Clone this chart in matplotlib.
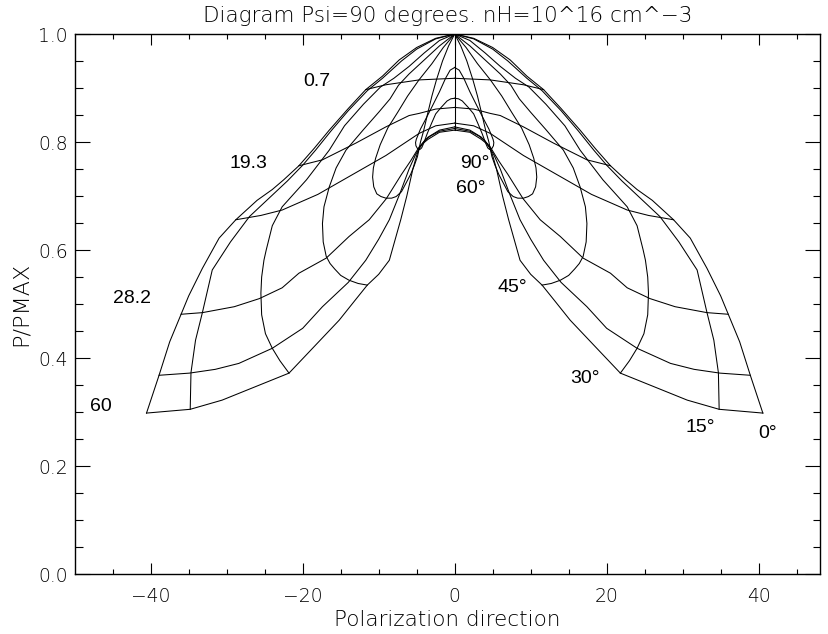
import matplotlib
matplotlib.use("Agg")
import matplotlib.pyplot as plt
import numpy as np

# ---------------- data (right half; left half is the mirror image) ----------
# curves of constant inclination: (polarization direction, P/PMAX)
incl_0_x  = [0, 2.5, 5.0, 7.3, 9.5, 11.7, 14.0, 16.5, 18.5, 20.5, 22.5, 24.0, 26.0, 28.8, 31.0, 33.2, 35.0, 36.0, 37.5, 38.9, 40.55]
incl_0_y  = [1, 0.992, 0.975, 0.952, 0.922, 0.897, 0.862, 0.822, 0.788, 0.756, 0.730, 0.712, 0.692, 0.656, 0.622, 0.566, 0.515, 0.481, 0.430, 0.368, 0.298]
incl_15_x = [0, 2.5, 5.0, 7.0, 9.5, 11.5, 14.0, 16.3, 18.3, 20.0, 22.0, 24.5, 27.0, 29.5, 31.9, 33.2, 34.1, 34.7, 34.8]
incl_15_y = [1, 0.991, 0.972, 0.950, 0.918, 0.895, 0.858, 0.820, 0.785, 0.757, 0.728, 0.695, 0.662, 0.615, 0.563, 0.484, 0.433, 0.373, 0.305]
incl_30_x = [0, 2.0, 4.0, 6.0, 8.0, 9.75, 12.0, 14.5, 16.5, 19.5, 22.7, 24.0, 24.8, 25.1, 25.4, 25.5, 25.4, 24.9, 24.0, 23.0, 21.8]
incl_30_y = [1, 0.988, 0.965, 0.940, 0.918, 0.902, 0.870, 0.830, 0.785, 0.730, 0.680, 0.645, 0.600, 0.581, 0.550, 0.520, 0.480, 0.445, 0.418, 0.395, 0.372]
incl_45_x = [0, 2.0, 4.0, 6.0, 7.4, 8.5, 10.0, 12.0, 14.3, 15.6, 16.5, 17.2, 17.4, 17.3, 16.9, 16.4, 15.8, 15.0, 13.9, 12.7, 11.5]
incl_45_y = [1, 0.978, 0.952, 0.926, 0.905, 0.880, 0.855, 0.823, 0.785, 0.752, 0.717, 0.680, 0.649, 0.615, 0.588, 0.575, 0.565, 0.553, 0.544, 0.538, 0.535]
incl_60_x = [0, 1.5, 3.0, 4.7, 6.2, 7.5, 8.8, 9.8, 10.4, 10.7, 10.8, 10.65, 10.25, 9.7, 9.05, 8.3, 7.7, 7.0, 6.4, 5.8, 5.3, 4.9, 4.67]
incl_60_y = [1, 0.975, 0.945, 0.915, 0.885, 0.855, 0.826, 0.795, 0.770, 0.752, 0.735, 0.717, 0.704, 0.699, 0.696, 0.696, 0.699, 0.708, 0.724, 0.740, 0.757, 0.773, 0.788]
incl_75_x = [0, 0.8, 1.6, 2.4, 3.0, 3.6, 4.1, 4.5, 4.67]
incl_75_y = [1, 0.978, 0.950, 0.915, 0.885, 0.850, 0.820, 0.800, 0.788]
incl_90_x = [0, 0]
incl_90_y = [1, 0.822]
# small central loop (two nested arches joined by a narrow loop)
loop_x = [0, 0.6, 1.2, 2.0, 2.96, 3.9, 4.5, 4.85, 5.05, 5.15, 5.1, 4.9, 4.6, 4.35, 4.1, 3.6, 3.0, 2.5, 1.85, 1.0, 0.5, 0]
loop_y = [0.938, 0.933, 0.918, 0.893, 0.866, 0.840, 0.824, 0.812, 0.805, 0.799, 0.793, 0.788, 0.786, 0.789, 0.797, 0.816, 0.836, 0.852, 0.863, 0.876, 0.880, 0.881]

# curves of constant field strength
fA_x = [0, 4.67, 9.05, 11.7]
fA_y = [0.918, 0.915, 0.906, 0.897]
fB_x = [0, 2.5, 4.67, 6.0, 9.05, 13.0, 17.4, 20.5]
fB_y = [0.864, 0.861, 0.853, 0.849, 0.828, 0.798, 0.767, 0.756]
fC_x = [0, 2.5, 4.67, 9.05, 13.9, 18.0, 22.7, 25.5, 28.8]
fC_y = [0.835, 0.830, 0.816, 0.775, 0.736, 0.703, 0.674, 0.664, 0.656]
fD_x = [0, 2.0, 3.5, 4.67, 5.8, 7.0, 9.0, 11.25, 13.9, 16.9, 20.5, 22.7, 25.7, 29.0, 33.2, 36.0]
fD_y = [0.828, 0.822, 0.809, 0.791, 0.765, 0.740, 0.695, 0.656, 0.625, 0.585, 0.557, 0.530, 0.510, 0.495, 0.484, 0.481]
fE_x = [0, 2.0, 3.2, 4.0, 4.6, 5.2, 6.0, 7.2, 8.6, 10.0, 11.7, 14.0, 17.4, 20.0, 24.0, 28.4, 31.5, 34.9, 38.9]
fE_y = [0.825, 0.820, 0.811, 0.802, 0.790, 0.775, 0.750, 0.705, 0.656, 0.620, 0.581, 0.540, 0.495, 0.455, 0.418, 0.390, 0.379, 0.372, 0.368]
fF_x = [0, 2.0, 3.5, 4.2, 4.67, 5.0, 5.5, 6.3, 7.1, 8.6, 10.0, 11.5, 13.1, 15.2, 18.7, 21.8, 26.2, 30.6, 34.8, 40.55]
fF_y = [0.822, 0.818, 0.805, 0.797, 0.788, 0.775, 0.750, 0.700, 0.656, 0.581, 0.555, 0.535, 0.507, 0.470, 0.418, 0.372, 0.347, 0.322, 0.305, 0.298]

field_labels = ["0.7", "19.3", "28.2", "60"]
field_label_x = [-18.1, -27.2, -42.4, -46.5]
field_label_y = [0.912, 0.760, 0.511, 0.310]
incl_labels = ["90°", "60°", "45°", "30°", "15°", "0°"]
incl_label_x = [2.6, 2.1, 7.6, 17.1, 32.3, 41.2]
incl_label_y = [0.761, 0.713, 0.530, 0.362, 0.271, 0.261]

title = "Diagram Psi=90 degrees. nH=10^16 cm^\u22123"
xlabel = "Polarization direction"
ylabel = "P/PMAX"
xticks = [-40, -20, 0, 20, 40]
xticklabels = ["\u221240", "\u221220", "0", "20", "40"]
yticks = [0.0, 0.2, 0.4, 0.6, 0.8, 1.0]
yticklabels = ["0.0", "0.2", "0.4", "0.6", "0.8", "1.0"]

# ---------------- plot ----------------
plt.rcParams["font.family"] = ["DejaVu Sans"]
plt.rcParams["font.weight"] = 200

fig = plt.figure(figsize=(8.29, 6.34), dpi=100)
ax = fig.add_axes([74.7 / 829, 60 / 634, (820 - 74.7) / 829, 540 / 634])

curves = [(incl_0_x, incl_0_y), (incl_15_x, incl_15_y), (incl_30_x, incl_30_y),
          (incl_45_x, incl_45_y), (incl_60_x, incl_60_y), (incl_75_x, incl_75_y),
          (incl_90_x, incl_90_y), (loop_x, loop_y),
          (fA_x, fA_y), (fB_x, fB_y), (fC_x, fC_y), (fD_x, fD_y), (fE_x, fE_y), (fF_x, fF_y)]
for cx, cy in curves:
    cx = np.asarray(cx, float)
    ax.plot(cx, cy, color="black", lw=0.75, solid_joinstyle="round")
    ax.plot(-cx, cy, color="black", lw=0.75, solid_joinstyle="round")

lab_font = dict(family="Liberation Sans", fontsize=14, color="black", fontweight="normal")
for t, x, y in zip(field_labels, field_label_x, field_label_y):
    ax.text(x, y, t, ha="center", va="center", **lab_font)
for t, x, y in zip(incl_labels, incl_label_x, incl_label_y):
    ax.text(x, y, t, ha="center", va="center", **lab_font)

ax.set_xlim(-50, 48.07)
ax.set_ylim(0, 1)
ax.set_xticks(xticks)
ax.set_xticklabels(xticklabels)
ax.set_yticks(yticks)
ax.set_yticklabels(yticklabels)
ax.set_xticks(np.arange(-45, 48, 5), minor=True)
ax.set_yticks(np.arange(0, 1.001, 0.05), minor=True)
ax.tick_params(which="both", direction="in", top=True, right=True, color="black", width=0.8)
ax.tick_params(axis="x", which="major", length=7.8, labelsize=13.5, pad=9)
ax.tick_params(axis="x", which="minor", length=3.9)
ax.tick_params(axis="y", which="major", length=10.7, labelsize=13.5, pad=5)
ax.tick_params(axis="y", which="minor", length=5.4)
for s in ax.spines.values():
    s.set_linewidth(1.0)

ax.set_title(title, fontsize=15.5, pad=9, fontweight=200)
ax.set_xlabel(xlabel, fontsize=15.5, labelpad=3, fontweight=200)
ax.set_ylabel(ylabel, fontsize=16, labelpad=5, fontweight=200)

fig.savefig("out.png", dpi=100)
